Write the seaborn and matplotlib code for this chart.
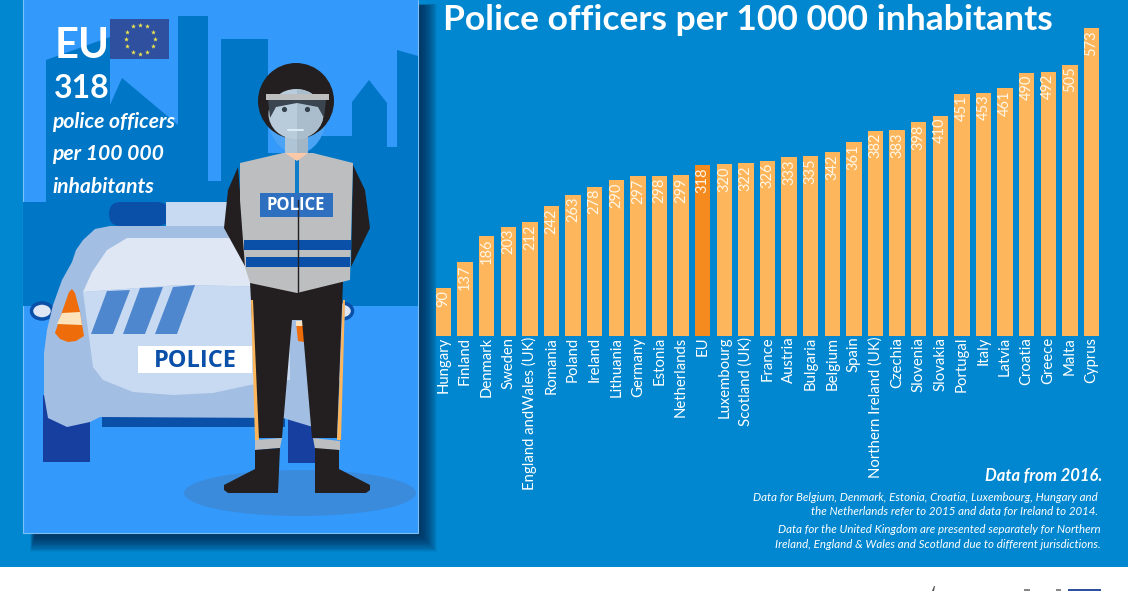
import matplotlib
matplotlib.use('Agg')
import matplotlib.pyplot as plt
from matplotlib.patches import Polygon, Rectangle, Ellipse, Circle, FancyBboxPatch
import numpy as np
import pandas as pd
import seaborn as sns

countries = ['Hungary', 'Finland', 'Denmark', 'Sweden', 'England andWales (UK)', 'Romania', 'Poland',
             'Ireland', 'Lithuania', 'Germany', 'Estonia', 'Netherlands', 'EU', 'Luxembourg',
             'Scotland (UK)', 'France', 'Austria', 'Bulgaria', 'Belgium', 'Spain',
             'Northern Ireland (UK)', 'Czechia', 'Slovenia', 'Slovakia', 'Portugal', 'Italy',
             'Latvia', 'Croatia', 'Greece', 'Malta', 'Cyprus']
officers = [90, 137, 186, 203, 212, 242, 263, 278, 290, 297, 298, 299, 318, 320, 322, 326,
            333, 335, 342, 361, 382, 383, 398, 410, 451, 453, 461, 490, 492, 505, 573]

W, H = 1128, 591
BLUE = '#0087D0'
BAR = '#FDB65C'
BAR_EU = '#F58B1E'

sns.set_theme(style='white')
plt.rcParams['font.family'] = ['Lato', 'DejaVu Sans']

fig = plt.figure(figsize=(W / 100, H / 100), dpi=100, facecolor='white')

# background and illustration, in pixel coordinates
bg = fig.add_axes([0, 0, 1, 1])
bg.set_xlim(0, W)
bg.set_ylim(H, 0)
bg.axis('off')


def poly(pts, color, z=2):
    bg.add_patch(Polygon(pts, closed=True, facecolor=color, edgecolor='none', zorder=z))


def rect(x0, y0, x1, y1, color, z=2):
    bg.add_patch(Rectangle((x0, y0), x1 - x0, y1 - y0, facecolor=color, edgecolor='none', zorder=z))


rect(0, 0, W, 567, BLUE, 0)

# scraps of the logo row cut off at the bottom
rect(1068, 589, 1101, 591, '#2F4F9F', 1)
poly([(932, 591), (934, 586), (935, 586), (934, 591)], '#555555', 1)
rect(1024, 589, 1030, 591, '#888888', 1)
rect(1056, 589, 1061, 591, '#888888', 1)

# panel shadow
for d in np.linspace(19, 0, 24):
    rect(36 - d * 0.3, 6 - d * 0.1, 418 + d, 533 + d, (0, 0.13, 0.28, 0.06), 1)

rect(23, 0, 418, 533, '#3399FA', 2)
bg.plot([23, 23, 418, 418], [0, 533, 533, 0], color='#7CC0F5', lw=0.8, zorder=3)

# skyline
DARK = '#0076C6'
poly([(46, 202), (46, 60), (110, 37), (110, 105), (122, 78), (178, 125), (178, 16), (208, 16),
      (208, 181), (221, 181), (221, 39), (268, 39), (268, 153), (300, 153), (310, 136), (352, 136),
      (352, 102), (369, 80), (387, 103), (387, 147), (397, 147), (397, 50), (418, 56), (418, 306),
      (23, 306), (23, 202)], DARK, 3)

# flag
rect(110, 19, 169, 59, '#2F4F9F', 4)
ang = np.arange(12) * np.pi / 6
bg.scatter(140 + 14.5 * np.sin(ang), 39 + 14.5 * np.cos(ang), marker='*', s=14, color='#F1E84C',
           linewidths=0, zorder=5)

# car
LBODY = '#A3BEE3'
GLASS = '#DEE7F3'
HOOD = '#C8DAF2'
rect(43, 395, 90, 462, '#163F9F', 4)
rect(288, 410, 316, 463, '#163F9F', 4)
rect(102, 417, 285, 427, '#0A4FA8', 4)
bg.add_patch(FancyBboxPatch((109, 202), 60, 24, boxstyle='round,pad=0,rounding_size=12',
                            facecolor='#0A4FA8', edgecolor='none', zorder=4))
rect(166, 202, 240, 226, HOOD, 4)
poly([(44, 395), (44, 353), (47, 330), (53, 305), (62, 280), (72, 262), (76, 250), (83, 240), (95, 229),
      (110, 226), (250, 226), (330, 270), (345, 310), (340, 380), (313, 427), (283, 418), (100, 417),
      (90, 422), (67, 427), (48, 418)], LBODY, 5)
poly([(83, 292), (92, 272), (107, 250), (127, 238), (245, 238), (270, 260), (280, 287), (180, 285)], GLASS, 6)
poly([(83, 292), (180, 285), (280, 287), (290, 330), (290, 380), (250, 385), (213, 393), (173, 395), (133, 392),
      (103, 380), (93, 367)], HOOD, 6)
for p in ([(91, 334), (113, 334), (130, 290), (107, 291)],
          [(123, 334), (145, 334), (163, 287), (140, 288)],
          [(155, 334), (177, 334), (195, 285), (173, 287)]):
    poly(p, '#4F87CF', 7)
# mirrors and lights
bg.add_patch(Ellipse((42, 311), 21, 16, facecolor=GLASS, edgecolor='#0A4FA8', lw=2.5, zorder=4))
bg.add_patch(Ellipse((342, 311), 21, 16, facecolor=GLASS, edgecolor='#0A4FA8', lw=2.5, zorder=4))
poly([(72, 289), (75, 293), (80, 312), (84, 336), (76, 341), (68, 342), (60, 339), (55, 333), (62, 312), (69, 292)],
     '#EE6C0A', 7)
poly([(62, 313), (80, 312), (82, 325), (57, 324)], '#FDE3BC', 8)
poly([(296, 322), (304, 322), (304, 342), (298, 341)], '#EE6C0A', 7)
rect(296, 321, 304, 326, '#FDE3BC', 8)
rect(138, 346, 252, 373, 'white', 7)
bg.text(195, 361, 'POLICE', family=['Open Sans', 'DejaVu Sans'], fontsize=17, weight='bold', color='#0A4FA8',
        ha='center', va='center', zorder=8)

# officer
BLACK = '#231F20'
GREY = '#BCBEC0'
bg.add_patch(Ellipse((300, 493), 232, 46, facecolor='#3B8BDD', edgecolor='none', zorder=8))
poly([(250, 282), (258, 438), (282, 438), (292, 320), (302, 320), (312, 438), (337, 438), (343, 282)], BLACK, 10)
poly([(251, 300), (255, 440), (259, 440), (253, 300)], BAR, 11)
poly([(343, 300), (337, 440), (341, 440), (345, 300)], BAR, 11)
poly([(255, 440), (282, 438), (280, 448), (255, 450)], GREY, 10)
poly([(313, 438), (340, 441), (340, 450), (315, 449)], GREY, 10)
poly([(255, 450), (280, 448), (278, 493), (228, 493), (224, 490), (224, 485), (255, 469)], BLACK, 10)
poly([(315, 448), (339, 450), (339, 469), (370, 485), (370, 490), (366, 493), (315, 493)], BLACK, 10)
# arms
poly([(238, 167), (228, 190), (224, 228), (246, 268)], BLACK, 10)
poly([(353, 165), (365, 190), (370, 228), (351, 267)], BLACK, 10)
# vest
poly([(240, 163), (283, 153), (313, 153), (353, 163), (352, 200), (350, 280), (297, 293), (250, 283),
      (245, 267), (240, 200)], GREY, 11)
poly([(295, 160), (299, 160), (299, 200), (295, 200)], '#0E7CC9', 12)
bg.plot([297.5, 297.5], [200, 292], color=BLACK, lw=1, zorder=13)
rect(244, 240, 351, 250, '#0A4FA8', 12)
rect(246, 257, 350, 267, '#0A4FA8', 12)
rect(260, 193, 333, 217, '#2F6FC0', 12)
bg.text(296, 205, 'POLICE', family=['Open Sans', 'DejaVu Sans'], fontsize=12, weight='bold', color='white',
        ha='center', va='center', zorder=13)
# head
bg.add_patch(Ellipse((297, 112), 60, 84, facecolor='#4AA3F5', edgecolor='none', zorder=9))
bg.add_patch(Circle((296, 101), 38, facecolor=BLACK, edgecolor='none', zorder=10))
rect(285, 130, 297, 154, '#AFC4D4', 12)
rect(297, 130, 308, 154, '#A2B6C6', 12)
poly([(285, 153), (308, 153), (297, 161)], '#FBC9A8', 12)
face_l = Ellipse((296, 114), 55, 50, facecolor='#B8CCDB', edgecolor='none', zorder=12)
face_r = Ellipse((296, 114), 55, 50, facecolor='#A9BDCC', edgecolor='none', zorder=12)
bg.add_patch(face_l)
bg.add_patch(face_r)
face_r.set_clip_path(Rectangle((297, 80), 40, 70, transform=bg.transData))
poly([(268, 100), (326, 100), (324, 118), (318, 107), (297, 103), (276, 107), (270, 118)], '#3A4550', 13)
rect(266, 94, 329, 100, GREY, 14)
bg.scatter([284, 307], [109, 109], s=14, color='#33414D', linewidths=0, zorder=14)
bg.plot([288, 303], [130, 130], color='#DCEBF3', lw=1.5, zorder=14)

# panel text
bg.text(55, 58, 'EU', fontsize=30, weight='bold', color='white', zorder=6)
bg.text(54, 98, '318', fontsize=23, weight='bold', color='white', zorder=6)
for y, line in zip((128, 160, 193), ('police officers', 'per 100 000', 'inhabitants')):
    bg.text(52, y, line, fontsize=15.2, weight='bold', style='italic', color='white', zorder=6)

# title
bg.text(443, 30, 'Police officers per 100 000 inhabitants', fontsize=25.5, weight='bold', color='white', zorder=6)

# footnotes
bg.text(1102, 481, 'Data from 2016.', fontsize=12, weight='bold', style='italic', color='white', ha='right')
for y, x, line in ((501, 1098, 'Data for Belgium, Denmark, Estonia, Croatia, Luxembourg, Hungary and'),
                   (515, 1098, 'the Netherlands refer to 2015 and data for Ireland to 2014.'),
                   (533, 1101, 'Data for the United Kingdom are presented separately for Northern'),
                   (548, 1101, 'Ireland, England & Wales and Scotland due to different jurisdictions.')):
    bg.text(x, y, line, fontsize=8.3, style='italic', color='white', ha='right')

# bar chart
df = pd.DataFrame({'country': countries, 'officers': officers})
ax = fig.add_axes([432.7 / W, 1 - 336 / H, (1102.3 - 432.7) / W, 308 / H])
ax.patch.set_alpha(0)
colors = {c: BAR_EU if c == 'EU' else BAR for c in countries}
sns.barplot(data=df, x='country', y='officers', hue='country', palette=colors, legend=False,
            width=0.72, saturation=1, linewidth=0, ax=ax)
ax.set_xlim(-0.5, len(countries) - 0.5)
ax.set_ylim(0, max(officers))
ax.set_xlabel('')
ax.set_ylabel('')
ax.set_yticks([])
sns.despine(ax=ax, left=True, bottom=True)
ax.tick_params(axis='x', length=0, pad=0.5, colors='white', labelsize=10.7)
ax.set_xticks(range(len(countries)))
ax.set_xticklabels(countries, rotation=90, ha='center', va='top')
for i, v in enumerate(officers):
    ax.annotate(str(v), (i, v), xytext=(0, -1.5), textcoords='offset points', rotation=90,
                ha='center', va='top', fontsize=10.5, color='#FFF6E6')

fig.savefig('out.png', dpi=100)
